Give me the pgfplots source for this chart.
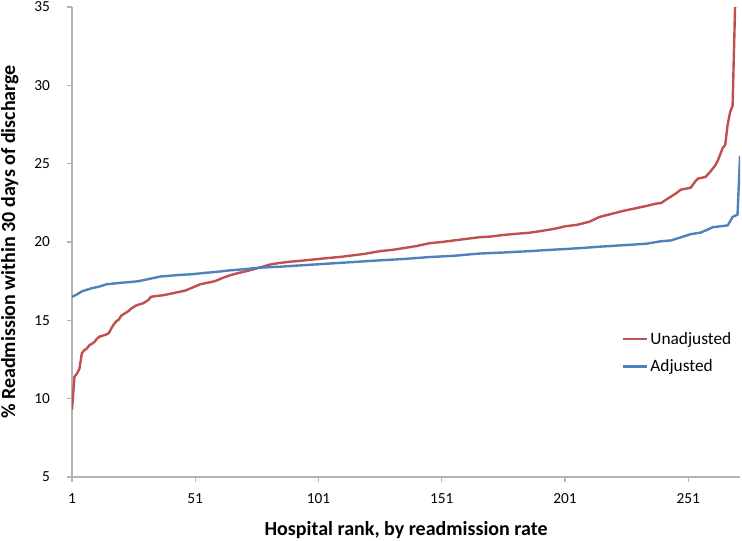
\documentclass[border=0pt]{standalone}
\usepackage{fontspec}
\setmainfont{Carlito}
\usepackage{pgfplots}
\pgfplotsset{compat=1.18}
\definecolor{redline}{HTML}{C0504D}
\definecolor{blueline}{HTML}{4F81BD}
\definecolor{axisgray}{HTML}{B3B3B3}
\begin{document}
\begin{tikzpicture}
\useasboundingbox (-54pt,-47.25pt) rectangle (502.5pt,357.75pt);
\begin{axis}[
  at={(0,0)}, anchor=south west,
  scale only axis,
  width=501pt, height=352.5pt,
  xmin=1, xmax=272, ymin=5, ymax=35,
  axis lines*=left,
  axis line style={draw=axisgray, line width=0.8pt},
  tick style={draw=axisgray, line width=0.8pt},
  tick align=outside,
  major tick length=4pt,
  xtick={1,51,101,151,201,251},
  ytick={5,10,15,20,25,30,35},
  /pgf/number format/assume math mode=true,
  ticklabel style={font=\fontsize{11.5}{13}\selectfont},
  xticklabel style={yshift=-5pt},
  yticklabel style={xshift=-9pt},
  xlabel={Hospital rank, by readmission rate},
  ylabel={\% Readmission within 30 days of discharge},
  every axis x label/.style={at={(axis description cs:0.5,-0.1234)}, anchor=base, font=\fontsize{15}{18}\selectfont\bfseries},
  every axis y label/.style={at={(axis description cs:-0.0853,0.5)}, anchor=base, rotate=90, font=\fontsize{15}{18}\selectfont\bfseries},
  legend style={draw=none, fill=none, at={(axis description cs:0.823,0.313)}, anchor=north west,
    font=\fontsize{13}{16}\selectfont, row sep=7pt, inner sep=0pt,
    nodes={inner sep=1.5pt}},
  legend cell align=left,
  legend image code/.code={\draw[#1, line width=1.8pt] (0pt,0pt) -- (18pt,0pt);},
]
\addplot[redline, line width=1.8pt] coordinates {
(1,9.3) (2,11.4) (3,11.6) (4,11.9) (5,12.9) (6,13.1) (7,13.2) (8,13.4) (9,13.5) (10,13.6)
(11,13.8) (12,13.95) (13,14.0) (14,14.05) (15,14.1) (16,14.2) (17,14.5) (18,14.75) (19,14.95) (20,15.05)
(21,15.3) (22,15.4) (23,15.5) (24,15.6) (25,15.75) (26,15.85) (27,15.95) (28,16.0) (30,16.1) (32,16.3)
(33,16.5) (35,16.55) (38,16.6) (41,16.7) (44,16.8) (47,16.9) (50,17.1) (53,17.3) (56,17.4) (59,17.5)
(62,17.7) (65,17.87) (68,18.0) (72,18.15) (77,18.36) (81,18.55) (85,18.66) (90,18.75) (95,18.82) (100,18.9)
(105,18.98) (110,19.05) (115,19.15) (120,19.25) (126,19.42) (131,19.5) (136,19.62) (141,19.75) (146,19.92) (151,20.0)
(156,20.1) (161,20.2) (166,20.3) (171,20.35) (176,20.45) (181,20.52) (187,20.6) (192,20.72) (197,20.85) (201,21.0)
(206,21.1) (211,21.3) (215,21.6) (220,21.8) (225,22.0) (229,22.13) (234,22.3) (238,22.45) (240,22.49) (242,22.7)
(244,22.9) (246,23.1) (248,23.34) (250,23.4) (252,23.47) (254,23.9) (255,24.05) (258,24.15) (260,24.5) (262,24.9)
(263,25.2) (264,25.6) (265,26.0) (266,26.2) (267,27.5) (268,28.3) (269,28.7) (270,35.0)
};
\addlegendentry{Unadjusted}
\addplot[blueline, line width=1.8pt] coordinates {
(1,16.5) (3,16.65) (5,16.85) (7,16.95) (9,17.05) (12,17.15) (15,17.3) (18,17.35) (21,17.4) (25,17.45)
(28,17.5) (31,17.6) (34,17.7) (37,17.8) (41,17.85) (45,17.9) (50,17.95) (55,18.03) (60,18.1) (65,18.19)
(70,18.25) (77,18.36) (85,18.42) (95,18.52) (105,18.62) (115,18.72) (126,18.83) (136,18.92) (146,19.04) (156,19.12)
(166,19.26) (176,19.33) (187,19.42) (195,19.5) (201,19.55) (208,19.62) (215,19.7) (225,19.8) (234,19.89) (240,20.05)
(244,20.1) (248,20.3) (252,20.5) (256,20.6) (259,20.8) (261,20.95) (264,21.0) (267,21.06) (269,21.6) (271,21.75)
(272,25.5)
};
\addlegendentry{Adjusted}
\end{axis}
\end{tikzpicture}
\end{document}
